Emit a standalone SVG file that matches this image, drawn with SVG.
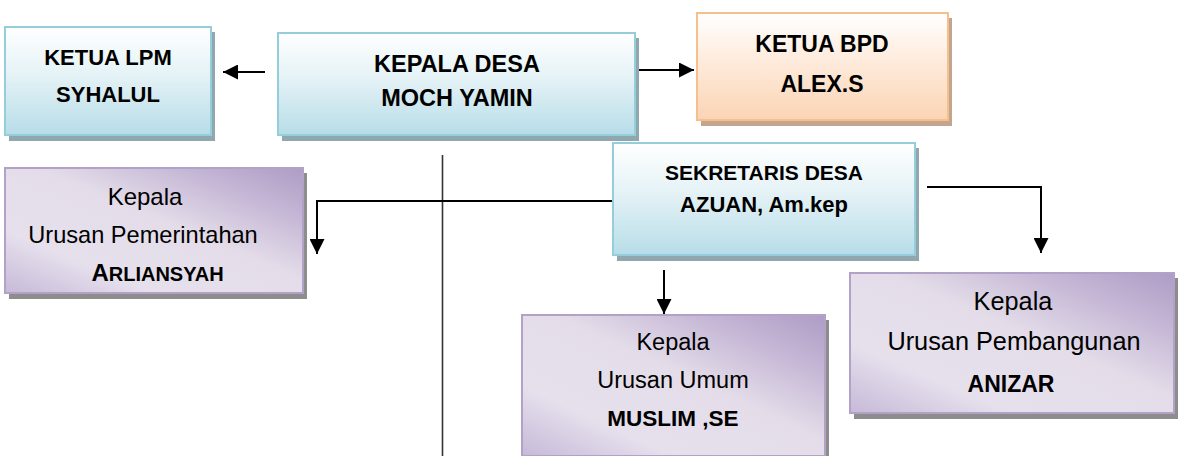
<svg xmlns="http://www.w3.org/2000/svg" width="1178" height="456" viewBox="0 0 1178 456">
<defs>
<linearGradient id="gBlue" x1="0" y1="0" x2="0" y2="1">
<stop offset="0" stop-color="#ffffff"/>
<stop offset="0.45" stop-color="#e4f2f6"/>
<stop offset="1" stop-color="#b7dde8"/>
</linearGradient>
<linearGradient id="gOrange" x1="0" y1="0" x2="0" y2="1">
<stop offset="0" stop-color="#ffffff"/>
<stop offset="0.45" stop-color="#feebdc"/>
<stop offset="1" stop-color="#fbd4b4"/>
</linearGradient>
<linearGradient id="gPurple" x1="0" y1="1" x2="1" y2="0">
<stop offset="0" stop-color="#c6b9d7"/>
<stop offset="0.25" stop-color="#e6e0ed"/>
<stop offset="0.55" stop-color="#e4dde9"/>
<stop offset="0.8" stop-color="#c4b6d5"/>
<stop offset="1" stop-color="#ae9cc5"/>
</linearGradient>
<marker id="arr" viewBox="0 0 10 10" refX="10" refY="5" markerWidth="8" markerHeight="7.5" orient="auto" markerUnits="strokeWidth">
<path d="M0,0 L10,5 L0,10 z" fill="#000"/>
</marker>
</defs>
<style>
.sb{fill:#8fa8b0}
.so{fill:#c4a48c}
.sp{fill:#8d8d8d}
.bb{fill:url(#gBlue);stroke:#96cddb;stroke-width:2}
.bo{fill:url(#gOrange);stroke:#f6bf8e;stroke-width:2}
.bp{fill:url(#gPurple);stroke:#b3a2c8;stroke-width:2}
text{font-family:"Liberation Sans",Arial,sans-serif;fill:#000;text-anchor:middle}
.b{font-weight:bold}
.c{stroke:#000;stroke-width:2;fill:none}
</style>

<g id="connectors">
<line class="c" x1="265" y1="72" x2="223" y2="72" marker-end="url(#arr)"/>
<line class="c" x1="638" y1="70" x2="694" y2="70" marker-end="url(#arr)"/>
<line x1="442.5" y1="155" x2="442.5" y2="456" stroke="#333" stroke-width="1.6"/>
<polyline class="c" points="613,201 317,201 317,254" marker-end="url(#arr)"/>
<polyline class="c" points="927,187 1041,187 1041,253" marker-end="url(#arr)"/>
<line class="c" x1="664" y1="270" x2="664" y2="314" marker-end="url(#arr)"/>
</g>

<g id="ketua-lpm">
<rect class="sb" x="9" y="32" width="206" height="109"/>
<rect class="bb" x="5" y="27" width="206" height="108"/>
<text class="b" x="108" y="65" font-size="22">KETUA LPM</text>
<text class="b" x="108" y="102" font-size="22">SYHALUL</text>
</g>

<g id="kepala-desa">
<rect class="sb" x="282" y="38" width="357" height="103"/>
<rect class="bb" x="278" y="33" width="357" height="102"/>
<text class="b" x="457" y="72" font-size="23.5">KEPALA DESA</text>
<text class="b" x="457" y="106" font-size="23.5">MOCH YAMIN</text>
</g>

<g id="ketua-bpd">
<rect class="so" x="701" y="18" width="251" height="108"/>
<rect class="bo" x="697" y="13" width="251" height="107"/>
<text class="b" x="822" y="52" font-size="23">KETUA BPD</text>
<text class="b" x="822" y="92" font-size="23">ALEX.S</text>
</g>

<g id="sekretaris">
<rect class="sb" x="617" y="148" width="302" height="113"/>
<rect class="bb" x="613" y="143" width="302" height="112"/>
<text class="b" x="764" y="180" font-size="21">SEKRETARIS DESA</text>
<text class="b" x="764" y="212" font-size="22">AZUAN, Am.kep</text>
</g>

<g id="kaur-pemerintahan">
<rect class="sp" x="9" y="173" width="298" height="126"/>
<rect class="bp" x="5" y="168" width="298" height="125"/>
<text x="145" y="205" font-size="24">Kepala</text>
<text x="143" y="243" font-size="23.6">Urusan Pemerintahan</text>
<text class="b" x="157.5" y="281" font-size="20"><tspan font-size="24">A</tspan>RLIANSYAH</text>
</g>

<g id="kaur-umum">
<rect class="sp" x="526" y="320" width="303" height="141"/>
<rect class="bp" x="522" y="315" width="303" height="141"/>
<text x="673" y="350" font-size="23.5">Kepala</text>
<text x="673" y="388" font-size="23.5">Urusan Umum</text>
<text class="b" x="673" y="426" font-size="22.5">MUSLIM ,SE</text>
</g>

<g id="kaur-pembangunan">
<rect class="sp" x="854" y="278" width="324" height="141"/>
<rect class="bp" x="850" y="273" width="324" height="140"/>
<text x="1013" y="310" font-size="25.3">Kepala</text>
<text x="1014" y="350" font-size="25.3">Urusan Pembangunan</text>
<text class="b" x="1011" y="392" font-size="23">ANIZAR</text>
</g>
</svg>
